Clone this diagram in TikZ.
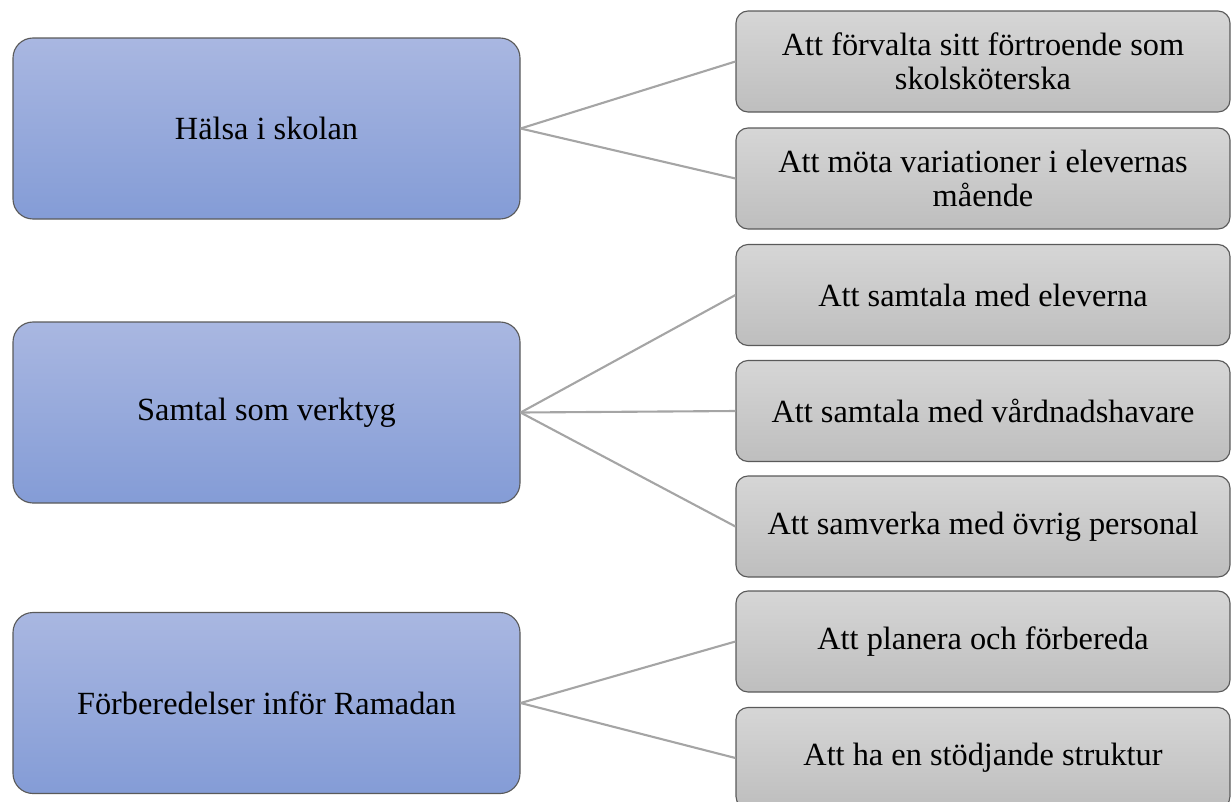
\documentclass[tikz,border=0pt]{standalone}
\usepackage{fontspec}
\setmainfont{Liberation Serif}
\usepackage{xcolor}
\definecolor{themetop}{RGB}{169,183,225}
\definecolor{themebot}{RGB}{132,156,214}
\definecolor{subtop}{RGB}{214,214,214}
\definecolor{subbot}{RGB}{190,190,190}
\definecolor{edgegray}{RGB}{90,90,90}
\definecolor{linkgray}{RGB}{165,165,165}
\usetikzlibrary{positioning}

\begin{document}
\begin{tikzpicture}[
  themebox/.style={draw=edgegray, line width=0.8pt, rounded corners=0.5cm,
      top color=themetop, bottom color=themebot, minimum width=12.675cm,
      minimum height=4.525cm, font=\fontsize{23}{26}\selectfont, align=center},
  subbox/.style={draw=edgegray, line width=0.8pt, rounded corners=0.3cm,
      top color=subtop, bottom color=subbot, minimum width=12.35cm,
      minimum height=2.525cm, font=\fontsize{23}{24}\selectfont, align=center},
  link/.style={draw=linkgray, line width=1.5pt}]

\useasboundingbox (0,0) rectangle (30.775,-20.025);

% Theme 1: Halsa i skolan
\node[themebox] (halsa) at (6.6625,-3.2125) {Hälsa i skolan};
\node[subbox] (forvalta) at (24.575,-1.5375) {Att förvalta sitt förtroende som\\skolsköterska};
\node[subbox] (mota) at (24.575,-4.4625) {Att möta variationer i elevernas\\mående};

% Theme 2: Samtal som verktyg
\node[themebox] (samtal) at (6.6625,-10.3125) {Samtal som verktyg};
\node[subbox] (elever) at (24.575,-7.375) {Att samtala med eleverna};
\node[subbox] (vardnad) at (24.575,-10.275) {Att samtala med vårdnadshavare};
\node[subbox] (personal) at (24.575,-13.1625) {Att samverka med övrig personal};

% Theme 3: Forberedelser infor Ramadan
\node[themebox] (ramadan) at (6.6625,-17.575) {Förberedelser inför Ramadan};
\node[subbox] (planera) at (24.575,-16.0375) {Att planera och förbereda};
\node[subbox] (struktur) at (24.575,-18.95) {Att ha en stödjande struktur};

% Connectors
\foreach \from/\to in {halsa/forvalta, halsa/mota, samtal/elever, samtal/vardnad,
    samtal/personal, ramadan/planera, ramadan/struktur}
  \draw[link] (\from.east) -- (\to.west);

\end{tikzpicture}
\end{document}
